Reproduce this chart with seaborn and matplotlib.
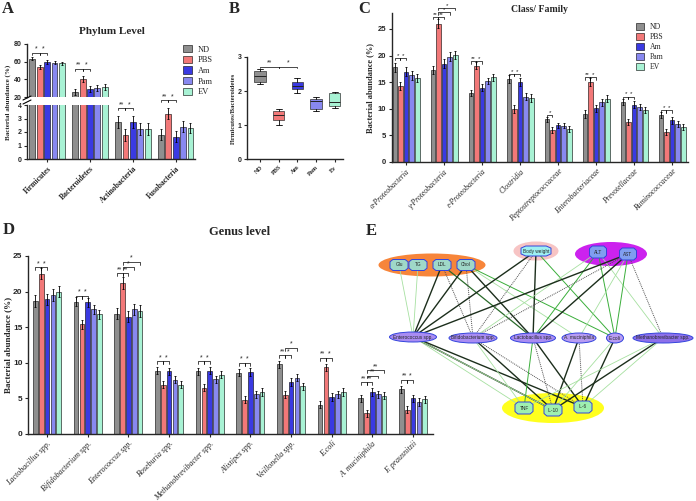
import numpy as np
import pandas as pd
import seaborn as sns
import matplotlib.pyplot as plt
from matplotlib.patches import Ellipse, Polygon, Patch

groups = ["ND", "PBS", "Am", "Pam", "EV"]
colors = ["#8f8f8f", "#f27878", "#3a3ae2", "#8888f0", "#a8f2d4"]

# A: phylum level (broken axis)
phylum = ["Firmicutes", "Bacteroidetes", "Actinobacteria", "Fusobacteria"]
phylum_nd = [63.5, 25.8, 2.75, 1.8]
phylum_pbs = [54.0, 40.0, 1.75, 3.35]
phylum_am = [59.8, 29.0, 2.75, 1.65]
phylum_pam = [59.0, 30.0, 2.2, 2.4]
phylum_ev = [58.0, 31.0, 2.2, 2.3]
phylum_err = [2.0, 3.5, 0.45, 0.4]
phylum_sig_top = [(0, 0, 1, 70, "*"), (0, 1, 2, 70, "*"),
                  (1, 0, 1, 52, "**"), (1, 1, 2, 52, "*")]
phylum_sig_low = [(2, 0, 1, 3.75, "**"), (2, 1, 2, 3.75, "*"),
                  (3, 0, 1, 4.35, "**"), (3, 1, 2, 4.35, "*")]

# B: firmicutes / bacteroidetes ratio
ratio_labels = ["ND", "PBS", "Am", "Pam", "Ev"]
ratio_low = [2.2, 1.0, 1.95, 1.42, 1.5]
ratio_q1 = [2.27, 1.15, 2.05, 1.47, 1.55]
ratio_med = [2.45, 1.3, 2.15, 1.7, 1.68]
ratio_q3 = [2.6, 1.4, 2.25, 1.76, 1.93]
ratio_high = [2.65, 1.47, 2.38, 1.82, 1.98]
ratio_sig = [(1, 2, 2.72, "**"), (2, 3, 2.72, "*")]

# C: class / family
klass = ["α-Proteobacteria", "γ-Proteobacteria", "ε-Proteobacteria", "Clostridia",
         "Peptostreptococcaceae", "Enterobacteriaceae", "Prevotellaceae", "Ruminococcaceae"]
class_nd = [17.8, 17.3, 13.0, 15.6, 8.0, 9.0, 11.3, 8.8]
class_pbs = [14.3, 26.0, 18.1, 10.0, 6.0, 15.0, 7.5, 5.6]
class_am = [17.0, 18.5, 14.0, 15.0, 6.9, 10.1, 10.8, 7.8]
class_pam = [16.3, 19.8, 15.2, 12.3, 6.8, 11.2, 10.3, 7.1]
class_ev = [15.8, 20.1, 15.9, 12.0, 6.2, 11.9, 9.8, 6.6]
class_err = [0.8, 0.8, 0.6, 0.7, 0.5, 0.7, 0.6, 0.6]
class_sig = [(0, 0, 1, 19.6, "*"), (0, 1, 2, 19.6, "*"),
             (1, 0, 1, 27.3, "**"), (1, 1, 2, 27.3, "**"), (1, 1, 3, 28.2, "*"), (1, 1, 4, 29.0, "*"),
             (2, 0, 1, 19.0, "**"), (2, 1, 2, 19.0, "*"),
             (3, 0, 1, 16.6, "*"), (3, 1, 2, 16.6, "*"),
             (4, 0, 1, 8.9, "*"),
             (5, 0, 1, 16.0, "**"), (5, 1, 2, 16.0, "*"),
             (6, 0, 1, 12.3, "*"), (6, 1, 2, 12.3, "*"),
             (7, 0, 1, 9.8, "*"), (7, 1, 2, 9.8, "*")]

# D: genus level
genus = ["Lactobacillus spp.", "Bifidobacterium spp.", "Enterococcus spp.", "Roseburia spp.",
         "Methanobrevibacter spp.", "Alistipes spp.", "Veillonella spp.", "E.coli",
         "A. muciniphila", "F. prausnitzii"]
genus_nd = [18.7, 18.6, 16.9, 8.9, 8.8, 8.6, 9.8, 4.1, 5.0, 6.3]
genus_pbs = [22.5, 15.4, 21.2, 6.9, 6.5, 4.8, 5.5, 9.4, 2.9, 3.4]
genus_am = [18.9, 18.5, 16.5, 8.8, 8.9, 8.7, 7.3, 5.2, 5.9, 5.0]
genus_pam = [19.5, 17.5, 17.5, 7.6, 7.7, 5.6, 7.9, 5.6, 5.6, 4.5]
genus_ev = [20.0, 16.8, 17.3, 6.9, 8.3, 5.9, 6.7, 5.9, 5.4, 4.9]
genus_err = [0.8, 0.6, 0.8, 0.5, 0.5, 0.5, 0.5, 0.5, 0.5, 0.5]
genus_sig = [(0, 0, 1, 23.4, "*"), (0, 1, 2, 23.4, "*"),
             (1, 0, 1, 19.4, "*"), (1, 1, 2, 19.4, "*"),
             (2, 0, 1, 22.6, "**"), (2, 1, 2, 22.6, "**"), (2, 1, 3, 23.4, "*"), (2, 1, 4, 24.2, "*"),
             (3, 0, 1, 10.2, "*"), (3, 1, 2, 10.2, "*"),
             (4, 0, 1, 10.2, "*"), (4, 1, 2, 10.2, "*"),
             (5, 0, 1, 10.0, "*"), (5, 1, 2, 10.0, "*"),
             (6, 0, 1, 11.1, "**"), (6, 1, 2, 11.1, "*"), (6, 1, 3, 12.1, "*"),
             (7, 0, 1, 10.7, "**"), (7, 1, 2, 10.7, "*"),
             (8, 0, 1, 7.3, "**"), (8, 1, 2, 7.3, "**"), (8, 1, 3, 8.2, "**"), (8, 1, 4, 9.0, "**"),
             (9, 0, 1, 7.6, "**"), (9, 1, 2, 7.6, "*")]

# E: correlation network
node_pos = {"Glu": (399, 265), "TG": (418, 265), "LDL": (442, 265), "Chol": (466, 265),
            "Body weight": (536, 251), "ALT": (598, 252), "AST": (628, 254),
            "Enterococcus spp.": (413, 337), "Bifidobacterium spp.": (473, 338),
            "Lactobacillus spp.": (533, 338), "A. muciniphila": (579, 338),
            "E.coli": (615, 338), "Methanobrevibacter spp.": (663, 338),
            "TNF": (524, 408), "IL-10": (553, 410), "IL-6": (583, 407)}
edges = [("Glu", "Enterococcus spp.", "light"), ("TG", "Enterococcus spp.", "light"),
         ("LDL", "Enterococcus spp.", "dark"), ("LDL", "Bifidobacterium spp.", "dot"),
         ("LDL", "Lactobacillus spp.", "darkgreen"), ("Chol", "Enterococcus spp.", "dark"),
         ("Chol", "Bifidobacterium spp.", "dot"), ("Chol", "Lactobacillus spp.", "dark"),
         ("Chol", "E.coli", "green"), ("Chol", "A. muciniphila", "light"),
         ("Body weight", "Enterococcus spp.", "dark"), ("Body weight", "Bifidobacterium spp.", "dot"),
         ("Body weight", "Lactobacillus spp.", "dark"), ("Body weight", "E.coli", "green"),
         ("ALT", "Lactobacillus spp.", "green"), ("ALT", "E.coli", "green"),
         ("ALT", "Bifidobacterium spp.", "light"), ("ALT", "Methanobrevibacter spp.", "light"),
         ("AST", "Enterococcus spp.", "dark"), ("AST", "Bifidobacterium spp.", "dot"),
         ("AST", "Lactobacillus spp.", "dark"), ("AST", "E.coli", "green"),
         ("AST", "A. muciniphila", "light"), ("AST", "Methanobrevibacter spp.", "dot"),
         ("Enterococcus spp.", "TNF", "light"), ("Enterococcus spp.", "IL-10", "dark"),
         ("Enterococcus spp.", "IL-6", "dark"), ("Enterococcus spp.", "IL-10", "light"),
         ("Bifidobacterium spp.", "IL-10", "dark"), ("Bifidobacterium spp.", "IL-6", "dot"),
         ("Bifidobacterium spp.", "TNF", "light"),
         ("Lactobacillus spp.", "TNF", "green"), ("Lactobacillus spp.", "IL-10", "dot"),
         ("Lactobacillus spp.", "IL-6", "dark"),
         ("A. muciniphila", "IL-10", "dark"), ("A. muciniphila", "IL-6", "dot"),
         ("E.coli", "IL-6", "dark"), ("E.coli", "IL-10", "light"),
         ("Methanobrevibacter spp.", "IL-10", "dark"), ("Methanobrevibacter spp.", "IL-6", "light"),
         ("Methanobrevibacter spp.", "TNF", "light")]

sns.set_style("ticks")
plt.rcParams["font.family"] = ["Liberation Sans", "DejaVu Sans"]
plt.rcParams["axes.linewidth"] = 1.0
plt.rcParams["xtick.major.size"] = 2.5
plt.rcParams["ytick.major.size"] = 2.5
plt.rcParams["xtick.major.width"] = 0.8
plt.rcParams["ytick.major.width"] = 0.8
plt.rcParams["ytick.major.pad"] = 1.5
plt.rcParams["xtick.major.pad"] = 1.5

SERIF = ["Liberation Serif", "DejaVu Serif"]
W, H = 696, 501
fig = plt.figure(figsize=(6.96, 5.01), dpi=100)


def box(x0, y0, x1, y1):
    return [x0 / W, 1 - y1 / H, (x1 - x0) / W, (y1 - y0) / H]


def long_table(cats, series):
    rows = []
    for g, vals in zip(groups, series):
        for c, v in zip(cats, vals):
            rows.append((c, g, v))
    return pd.DataFrame(rows, columns=["cat", "grp", "val"])


def draw_bars(ax, cats, series, err, width):
    df = long_table(cats, series)
    sns.barplot(data=df, x="cat", y="val", hue="grp", order=cats, hue_order=groups,
                palette=colors, width=width, gap=0.2, saturation=1, edgecolor="black",
                linewidth=0.4, errorbar=None, legend=False, ax=ax)
    slot = width / len(groups)
    for gi, vals in enumerate(series):
        xs = np.arange(len(cats)) + (gi - 2) * slot
        ax.errorbar(xs, vals, yerr=err, fmt="none", ecolor="black", elinewidth=0.6,
                    capsize=1.0, capthick=0.6, zorder=3)


def brackets(ax, sig, width, tick, fs=5):
    slot = width / len(groups)
    for ci, g1, g2, y, txt in sig:
        x1 = ci + (g1 - 2) * slot
        x2 = ci + (g2 - 2) * slot
        ax.plot([x1, x1, x2, x2], [y - tick, y, y, y - tick], color="black", lw=0.5, clip_on=False)
        ax.text((x1 + x2) / 2, y, txt, ha="center", va="bottom", fontsize=fs, clip_on=False)


def style_axis(ax, labelsize=5.5):
    sns.despine(ax=ax)
    ax.set_xlabel("")
    ax.set_ylabel("")
    ax.tick_params(labelsize=labelsize)


def bold_y(ax):
    for t in ax.get_yticklabels():
        t.set_fontweight("bold")


def cat_labels(ax, cats, size, italic=True, bold=False):
    ax.set_xticks(range(len(cats)))
    ax.set_xticklabels(cats, rotation=45, ha="right", rotation_mode="anchor", family=SERIF,
                       style="italic" if italic else "normal",
                       fontweight="bold" if bold else "normal", fontsize=size)


def legend_at(x, y, size):
    handles = [Patch(facecolor=c, edgecolor="black", lw=0.4, label=g) for g, c in zip(groups, colors)]
    fig.legend(handles=handles, loc="upper left", bbox_to_anchor=(x / W, 1 - y / H), frameon=False,
               prop={"family": SERIF, "size": size}, handlelength=1.1, handleheight=1.0,
               labelspacing=0.25, handletextpad=0.7, borderpad=0, borderaxespad=0)


def ylab(x, y, text, size):
    fig.text(x / W, 1 - y / H, text, rotation=90, ha="center", va="center",
             family=SERIF, fontweight="bold", fontsize=size)


# ---- A ----
phylum_series = [phylum_nd, phylum_pbs, phylum_am, phylum_pam, phylum_ev]
wa = 0.86
axA1 = fig.add_axes(box(27, 44, 195, 97))
axA2 = fig.add_axes(box(27, 105, 195, 159))
for ax in (axA1, axA2):
    draw_bars(ax, phylum, phylum_series, phylum_err, wa)
    ax.set_xlim(-0.47, 3.45)
    style_axis(ax, 5)
axA1.set_ylim(20, 80)
axA1.set_yticks([20, 40, 60, 80])
axA1.spines["bottom"].set_visible(False)
axA1.tick_params(axis="x", bottom=False, labelbottom=False)
bold_y(axA1)
axA2.set_ylim(0, 4)
axA2.set_yticks([0, 1, 2, 3, 4])
bold_y(axA2)
cat_labels(axA2, phylum, 5.5, italic=False, bold=True)
brackets(axA1, phylum_sig_top, wa, 2.0)
brackets(axA2, phylum_sig_low, wa, 0.13)
for yy in (98, 102):
    fig.add_artist(plt.Line2D([23 / W, 31 / W], [1 - (yy + 2) / H, 1 - (yy - 2) / H],
                              color="black", lw=0.8))
ylab(8, 102, "Bacterial abundance (%)", 5)
fig.text(112 / W, 1 - 32 / H, "Phylum Level", ha="center", va="center", family=SERIF,
         fontweight="bold", fontsize=8)
legend_at(183, 45, 6)

# ---- B ----
axB = fig.add_axes(box(247, 57, 343, 159))
stats = [dict(whislo=a, q1=b, med=c, q3=d, whishi=e, fliers=[])
         for a, b, c, d, e in zip(ratio_low, ratio_q1, ratio_med, ratio_q3, ratio_high)]
bp = axB.bxp(stats, positions=range(1, 6), widths=0.62, patch_artist=True, showfliers=False,
             boxprops=dict(lw=0.5, edgecolor="#333333"), whiskerprops=dict(lw=0.6),
             capprops=dict(lw=0.6), medianprops=dict(color="#222222", lw=0.7))
for patch, c in zip(bp["boxes"], colors):
    patch.set_facecolor(c)
axB.set_xlim(0.3, 5.45)
axB.set_ylim(0, 3)
axB.set_yticks([0, 1, 2, 3])
style_axis(axB, 5)
axB.set_xticks(range(1, 6))
axB.set_xticklabels(ratio_labels, rotation=45, ha="right", rotation_mode="anchor", family=SERIF,
                    fontweight="bold", fontsize=4.5)
bold_y(axB)
for p1, p2, y, txt in ratio_sig:
    axB.plot([p1, p1, p2, p2], [y - 0.05, y, y, y - 0.05], color="black", lw=0.5)
    axB.text((p1 + p2) / 2, y, txt, ha="center", va="bottom", fontsize=5)
ylab(233, 108, "Firmicutes/Bacteroidetes", 4.8)

# ---- C ----
class_series = [class_nd, class_pbs, class_am, class_pam, class_ev]
wc = 0.74
axC = fig.add_axes(box(392, 13, 688, 162))
draw_bars(axC, klass, class_series, class_err, wc)
axC.set_xlim(-0.37, 7.42)
axC.set_ylim(0, 28)
axC.set_yticks([0, 5, 10, 15, 20, 25])
style_axis(axC)
bold_y(axC)
cat_labels(axC, klass, 5.5)
brackets(axC, class_sig, wc, 0.5, fs=4.5)
ylab(370, 88, "Bacterial abundance (%)", 6)
fig.text(539 / W, 1 - 9 / H, "Class/ Family", ha="center", va="center", family=SERIF,
         fontweight="bold", fontsize=7)
legend_at(636, 23, 5.5)

# ---- D ----
genus_series = [genus_nd, genus_pbs, genus_am, genus_pam, genus_ev]
wd = 0.72
axD = fig.add_axes(box(28, 256, 433, 434))
draw_bars(axD, genus, genus_series, genus_err, wd)
axD.set_xlim(-0.47, 9.49)
axD.set_ylim(0, 25)
axD.set_yticks([0, 5, 10, 15, 20, 25])
style_axis(axD, labelsize=6)
bold_y(axD)
cat_labels(axD, genus, 5.8)
brackets(axD, genus_sig, wd, 0.4, fs=5)
ylab(8, 345, "Bacterial abundance (%)", 6.5)
fig.text(240 / W, 1 - 232 / H, "Genus level", ha="center", va="center", family=SERIF,
         fontweight="bold", fontsize=9)

# ---- E ----
axE = fig.add_axes([290 / W, 0, 406 / W, 261 / H])
axE.set_xlim(290, 696)
axE.set_ylim(501, 240)
axE.axis("off")
clusters = [((432, 265), 107, 23, "#f7853a"), ((536, 251), 45, 19, "#f7c4c4"),
            ((611, 254), 72, 24, "#cc22ee"), ((553, 408), 102, 30, "#ffff1e")]
for c, w, h, col in clusters:
    axE.add_patch(Ellipse(c, w, h, facecolor=col, edgecolor="none", zorder=0))
edge_style = {"dark": dict(color="#1c2e1c", lw=1.0, ls="-"),
              "darkgreen": dict(color="#2a6a2a", lw=0.9, ls="-"),
              "green": dict(color="#3aae3a", lw=0.7, ls="-"),
              "light": dict(color="#a6e0a0", lw=0.6, ls="-"),
              "dot": dict(color="#505050", lw=0.7, ls=(0, (1, 1)))}
for a, b, s in edges:
    (x1, y1), (x2, y2) = node_pos[a], node_pos[b]
    axE.plot([x1, x2], [y1, y2], zorder=1, **edge_style[s])


def octagon(x, y, w, h, fc):
    a, b = w / 2, h / 2
    ca, cb = a * 0.32, b * 0.42
    pts = [(x - a + ca, y - b), (x + a - ca, y - b), (x + a, y - b + cb), (x + a, y + b - cb),
           (x + a - ca, y + b), (x - a + ca, y + b), (x - a, y + b - cb), (x - a, y - b + cb)]
    axE.add_patch(Polygon(pts, closed=True, facecolor=fc, edgecolor="#3344dd", lw=0.7, zorder=2))


node_shape = {"Glu": ("oct", 18, 11, "#9fd8c8"), "TG": ("oct", 18, 11, "#9fd8c8"),
              "LDL": ("oct", 18, 11, "#9fd8c8"), "Chol": ("oct", 18, 11, "#9fd8c8"),
              "Body weight": ("oct", 30, 10, "#9ef0f2"), "ALT": ("oct", 17, 12, "#809ef0"),
              "AST": ("oct", 17, 12, "#809ef0"),
              "Enterococcus spp.": ("ell", 47, 10, "#a98cf2"), "Bifidobacterium spp.": ("ell", 48, 10, "#a98cf2"),
              "Lactobacillus spp.": ("ell", 45, 10, "#a98cf2"), "A. muciniphila": ("ell", 34, 10, "#b89cf2"),
              "E.coli": ("ell", 17, 10, "#b89cf2"), "Methanobrevibacter spp.": ("ell", 60, 10, "#8d70ea"),
              "TNF": ("oct", 18, 12, "#9ef0b0"), "IL-10": ("oct", 18, 12, "#9ef0b0"),
              "IL-6": ("oct", 18, 12, "#9ef0b0")}
for name, (x, y) in node_pos.items():
    kind, w, h, fc = node_shape[name]
    if kind == "oct":
        octagon(x, y, w, h, fc)
    else:
        axE.add_patch(Ellipse((x, y), w, h, facecolor=fc, edgecolor="#3344dd", lw=0.7, zorder=2))
    axE.text(x, y, name, ha="center", va="center", fontsize=3.4, zorder=3, fontweight="normal")

# panel letters
for letter, x, y in [("A", 8, 9), ("B", 234, 9), ("C", 364, 9), ("D", 9, 230), ("E", 371, 231)]:
    fig.text(x / W, 1 - y / H, letter, ha="center", va="center", family=SERIF,
             fontweight="bold", fontsize=12)

fig.savefig("out.png", dpi=100)
